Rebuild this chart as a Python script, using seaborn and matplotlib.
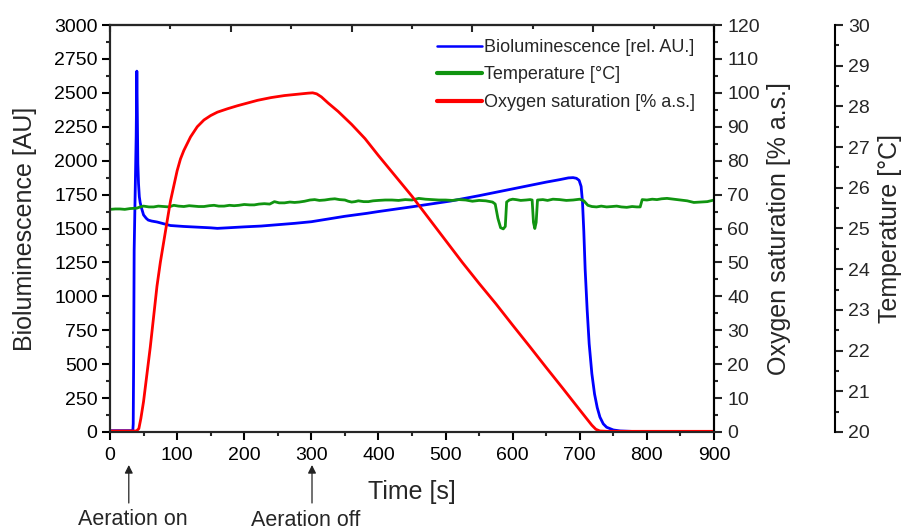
import numpy as np
import pandas as pd
import matplotlib
matplotlib.use("Agg")
import matplotlib.pyplot as plt
import matplotlib.transforms as mtransforms
import seaborn as sns
from matplotlib.ticker import MultipleLocator
from matplotlib.lines import Line2D

# ---------------- data ----------------
bio_t = [0, 20, 34, 34.6, 35.2, 36, 37, 38, 39, 40, 40.7, 41.5, 42.5, 43.7, 45, 47, 50, 54, 57, 62,
         70, 80, 90, 110, 130, 150, 160, 175, 200, 225, 250, 275, 300, 325, 350, 383, 400,
         450, 507, 550, 600, 650, 670, 683, 690, 695, 699, 702, 704, 706, 708, 711, 714,
         718, 722, 726, 730, 735, 740, 750, 760, 780, 800, 850, 900]
bio = [10, 10, 10, 60, 500, 1340, 1620, 1900, 2180, 2660, 2350, 1980, 1830, 1734, 1690, 1650, 1600,
       1575, 1562, 1555, 1548, 1535, 1522, 1515, 1510, 1505, 1501, 1505, 1512, 1518, 1528, 1538,
       1550, 1570, 1590, 1612, 1625, 1660, 1702, 1742, 1792, 1842, 1860, 1873, 1875, 1870, 1855,
       1810, 1700, 1480, 1200, 900, 650, 430, 280, 180, 110, 60, 35, 15, 8, 4, 2, 1, 1]

o2_t = [0, 39.5, 43, 46, 50, 55, 60, 65, 70, 75, 80, 85, 90, 95, 100, 105, 110, 120, 130, 140,
        150, 160, 175, 190, 205, 220, 240, 260, 280, 295, 302, 308, 315, 325, 340, 360, 380, 400,
        425, 450, 475, 500, 525, 550, 575, 600, 625, 650, 675, 700, 710, 718, 724, 730, 740, 800, 900]
o2 = [0.3, 0.3, 1, 4, 9, 17, 25, 34, 43, 50, 56, 62, 68, 72.5, 77, 80.5, 83, 87, 90, 92,
      93.3, 94.3, 95.3, 96.2, 97, 97.8, 98.6, 99.2, 99.6, 99.9, 100, 99.7, 98.8, 97, 94.5, 90.7,
      86.5, 81.5, 75.5, 69.5, 63, 56.5, 50, 43.8, 37.8, 31.5, 25.3, 19, 12.8, 6.5, 4, 2, 0.8,
      0.3, 0.2, 0.2, 0.2]

temp_t = [0, 8, 15, 22, 30, 40, 45, 50, 58, 65, 72, 80, 88, 95, 102, 110, 118, 125, 132, 140,
          148, 155, 162, 170, 178, 185, 192, 200, 208, 215, 222, 230, 238, 245, 252, 260, 268,
          275, 282, 290, 298, 305, 312, 320, 328, 335, 342, 350, 355, 360, 365, 370, 378, 385,
          392, 400, 410, 420, 430, 440, 450, 460, 470, 480, 490, 500, 510, 520, 530, 540, 550,
          560, 570, 574, 578, 582, 586, 589, 591, 595, 600, 605, 612, 620, 626, 629, 631, 633,
          635, 637, 645, 652, 660, 670, 680, 690, 700, 706, 712, 718, 725, 732, 740, 748, 755,
          762, 770, 778, 785, 790, 793, 800, 808, 815, 822, 830, 840, 850, 860, 870, 880, 890, 900]
temp = [25.47, 25.48, 25.48, 25.47, 25.49, 25.50, 25.53, 25.55, 25.53, 25.53, 25.55, 25.54,
        25.53, 25.57, 25.55, 25.54, 25.56, 25.55, 25.54, 25.54, 25.56, 25.57, 25.55, 25.55,
        25.57, 25.56, 25.57, 25.59, 25.58, 25.58, 25.60, 25.61, 25.60, 25.66, 25.63, 25.63,
        25.65, 25.64, 25.65, 25.67, 25.70, 25.71, 25.69, 25.70, 25.72, 25.73, 25.71, 25.70,
        25.67, 25.65, 25.66, 25.68, 25.66, 25.66, 25.68, 25.69, 25.70, 25.70, 25.69, 25.71,
        25.70, 25.74, 25.72, 25.71, 25.70, 25.70, 25.69, 25.71, 25.70, 25.67, 25.69, 25.68,
        25.65, 25.60, 25.25, 25.02, 24.99, 25.05, 25.65, 25.70, 25.72, 25.71, 25.69, 25.70,
        25.71, 25.70, 25.15, 25.00, 25.15, 25.70, 25.71, 25.69, 25.72, 25.71, 25.69, 25.70,
        25.72, 25.68, 25.57, 25.54, 25.53, 25.55, 25.53, 25.54, 25.55, 25.53, 25.52, 25.54,
        25.53, 25.53, 25.71, 25.70, 25.72, 25.71, 25.73, 25.74, 25.72, 25.70, 25.68, 25.64,
        25.65, 25.66, 25.70]

bio_df = pd.DataFrame({"t": bio_t, "v": bio})
o2_df = pd.DataFrame({"t": o2_t, "v": o2})
temp_df = pd.DataFrame({"t": temp_t, "v": temp})

# ---------------- style ----------------
sns.set_style("ticks")
plt.rcParams["font.family"] = ["Liberation Sans", "DejaVu Sans"]
plt.rcParams["axes.linewidth"] = 1.5

BLUE = "#0000ff"
RED = "#ff0000"
GREEN = "#109410"
TICK_FS = 14
LABEL_FS = 18
LW = 2.0

fig = plt.figure(figsize=(9.01, 5.32), dpi=100)
ax1 = fig.add_axes([110 / 901, 1 - 432 / 532, 604 / 901, 407 / 532])
ax3 = ax1.twinx()
ax2 = ax1.twinx()

sns.lineplot(data=bio_df, x="t", y="v", ax=ax1, color=BLUE, lw=LW, legend=False)
sns.lineplot(data=temp_df, x="t", y="v", ax=ax3, color=GREEN, lw=LW, legend=False)
sns.lineplot(data=o2_df, x="t", y="v", ax=ax2, color=RED, lw=LW, legend=False)

ax1.set_xlim(0, 900)
ax1.set_ylim(0, 3000)
ax2.set_ylim(0, 120)
ax3.set_ylim(20, 30)

# left / bottom axis
ax1.xaxis.set_major_locator(MultipleLocator(100))
ax1.xaxis.set_minor_locator(MultipleLocator(50))
ax1.yaxis.set_major_locator(MultipleLocator(250))
ax1.yaxis.set_minor_locator(MultipleLocator(125))
ax1.tick_params(axis="both", which="major", length=6, width=1.5, labelsize=TICK_FS,
                direction="out", colors="black", pad=3)
ax1.tick_params(axis="x", which="major", pad=5)
ax1.tick_params(axis="both", which="minor", length=3, width=1.5, direction="out")
ax1.tick_params(axis="x", top=False, which="both")
for s in ["top", "bottom", "left", "right"]:
    ax1.spines[s].set_visible(True)
    ax1.spines[s].set_color("black")
    ax1.spines[s].set_linewidth(1.5)
ax1.set_xlabel("Time [s]", fontsize=LABEL_FS, labelpad=11)
ax1.set_ylabel("Bioluminescence [AU]", fontsize=LABEL_FS)
ax1.yaxis.set_label_coords(-0.121, 0.5)

# top inward ticks
top = ax1.secondary_xaxis("top")
top.set_xticks(np.arange(0, 901, 180))
top.xaxis.set_minor_locator(MultipleLocator(90))
top.tick_params(which="major", direction="in", length=5, width=1.5, labeltop=False)
top.tick_params(which="minor", direction="in", length=3, width=1.5)
top.spines["top"].set_linewidth(1.5)

# oxygen axis
ax2.yaxis.set_major_locator(MultipleLocator(10))
ax2.yaxis.set_minor_locator(MultipleLocator(5))
ax2.tick_params(axis="y", which="major", length=6, width=1.5, labelsize=TICK_FS, direction="out")
ax2.tick_params(axis="y", which="minor", length=3, width=1.5, direction="out")
ax2.spines["right"].set_linewidth(1.5)
ax2.spines["right"].set_color("black")
ax2.set_ylabel("Oxygen saturation [% a.s.]", fontsize=LABEL_FS)
ax2.yaxis.set_label_coords(1.087, 0.5)
ax2.set_xlabel("")

# temperature axis
ax3.spines["right"].set_position(("axes", 1.2))
ax3.spines["right"].set_linewidth(1.5)
ax3.spines["right"].set_color("black")
for s in ["top", "bottom", "left"]:
    ax3.spines[s].set_visible(False)
ax3.yaxis.set_major_locator(MultipleLocator(1))
ax3.yaxis.set_minor_locator(MultipleLocator(0.5))
ax3.tick_params(axis="y", which="major", length=6, width=1.5, labelsize=TICK_FS, direction="out")
ax3.tick_params(axis="y", which="minor", length=3, width=1.5, direction="out")
ax3.set_ylabel("Temperature [°C]", fontsize=LABEL_FS)
ax3.yaxis.set_label_coords(1.272, 0.5)
ax3.set_xlabel("")

# legend
handles = [Line2D([], [], color=BLUE, lw=1.8),
           Line2D([], [], color=GREEN, lw=3.0),
           Line2D([], [], color=RED, lw=3.0)]
labels = ["Bioluminescence [rel. AU.]", "Temperature [°C]", "Oxygen saturation [% a.s.]"]
fig.legend(handles, labels, loc="upper left", bbox_to_anchor=(437 / 901, 1 - 39 / 532),
           frameon=False, fontsize=13, handlelength=2.5, handletextpad=0.1,
           labelspacing=0.58, borderpad=0, borderaxespad=0)

# annotations under the axis
blend = mtransforms.blended_transform_factory(ax1.transData, fig.transFigure)
for xt, xa, txt, yb in [(33.5, 28, "Aeration on", 525), (292, 301, "Aeration off", 526)]:
    ax1.annotate("", xy=(xa, 1 - 465 / 532), xycoords=blend,
                 xytext=(xa, 1 - 503 / 532), textcoords=blend,
                 arrowprops=dict(arrowstyle="-|>", color="#222222", lw=0.9, mutation_scale=12,
                                 shrinkA=0, shrinkB=0),
                 annotation_clip=False)
    ax1.text(xt, 1 - yb / 532, txt, transform=blend,
             ha="center", va="baseline", fontsize=15.5, clip_on=False)

fig.savefig("out.png", dpi=100)
